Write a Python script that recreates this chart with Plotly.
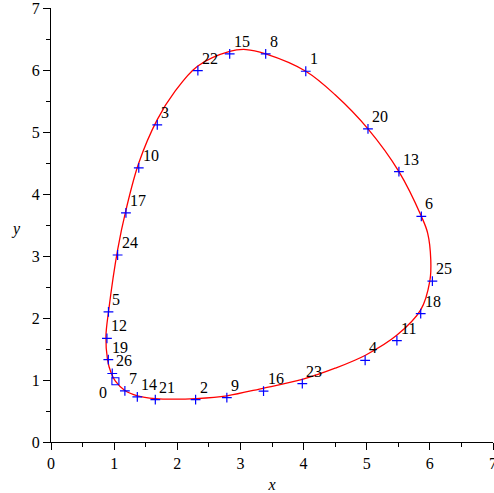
import plotly.graph_objects as go

# Sample points (index labels and coordinates)
point_labels = [str(i) for i in range(27)]
point_x = [1.02, 4.035, 2.29, 1.683, 4.975, 0.91, 5.865, 1.17, 3.40, 2.785,
           1.39, 5.478, 0.886, 5.51, 1.367, 2.83, 3.366, 1.187, 5.855, 0.908,
           5.02, 1.652, 2.326, 3.98, 1.055, 6.04, 0.97]
point_y = [0.98, 5.98, 0.685, 5.116, 1.315, 2.10, 3.64, 0.824, 6.26, 0.717,
           4.42, 1.635, 1.67, 4.36, 0.727, 6.26, 0.819, 3.695, 2.07, 1.33,
           5.05, 0.685, 5.99, 0.943, 3.016, 2.595, 1.105]

# Closed orbit curve
curve_x = [1.02, 1.17, 1.37, 1.65, 1.95, 2.29, 2.785, 3.37, 3.98, 4.5, 4.98,
           5.475, 5.855, 6.0, 6.015, 5.965, 5.865, 5.51, 5.02, 4.5, 4.035,
           3.40, 3.09, 2.83, 2.32, 1.96, 1.683, 1.39, 1.187, 1.055, 0.913,
           0.87, 0.895, 0.95, 1.02]
curve_y = [0.98, 0.83, 0.745, 0.70, 0.69, 0.70, 0.745, 0.87, 1.01, 1.19, 1.40,
           1.72, 2.13, 2.6, 2.93, 3.37, 3.64, 4.36, 5.05, 5.6, 5.98,
           6.26, 6.33, 6.30, 6.06, 5.65, 5.20, 4.50, 3.74, 3.10, 2.12,
           1.70, 1.33, 1.12, 0.98]

tick_vals = [0, 1, 2, 3, 4, 5, 6, 7]
tick_text = ["0", "1", "2", "3", "4", "5", "6", "7"]

FONT = "Liberation Serif, Times New Roman, serif"

fig = go.Figure()
fig.add_trace(go.Scatter(x=curve_x, y=curve_y, mode="lines",
                         line=dict(color="red", width=1.3, shape="spline", smoothing=1.0),
                         hoverinfo="skip", showlegend=False))
fig.add_trace(go.Scatter(x=point_x[1:], y=point_y[1:], mode="markers",
                         marker=dict(symbol="cross-thin", size=7,
                                     line=dict(color="blue", width=1.2)),
                         showlegend=False))
fig.add_trace(go.Scatter(x=point_x[:1], y=point_y[:1], mode="markers",
                         marker=dict(symbol="square-open", size=7, color="blue",
                                     line=dict(color="blue", width=1.1)),
                         showlegend=False))

annotations = []
for lab, px, py in zip(point_labels, point_x, point_y):
    if lab == "0":
        annotations.append(dict(x=px, y=py, text=lab, showarrow=False,
                                xanchor="right", yanchor="top", xshift=-6, yshift=-1,
                                font=dict(family=FONT, size=16, color="black")))
    else:
        annotations.append(dict(x=px, y=py, text=lab, showarrow=False,
                                xanchor="left", yanchor="bottom", xshift=2, yshift=2,
                                font=dict(family=FONT, size=16, color="black")))
annotations.append(dict(x=-0.096, y=0.49, xref="paper", yref="paper", text="<i>y</i>",
                        showarrow=False, font=dict(family=FONT, size=16, color="black")))

axis_common = dict(range=[0, 7], showgrid=False, zeroline=False, showline=True,
                   linecolor="black", linewidth=1.2, ticks="outside", ticklen=7,
                   tickwidth=1.2, tickcolor="black", tickvals=tick_vals,
                   ticktext=tick_text, tickfont=dict(family=FONT, size=16, color="black"),
                   ticklabeloverflow="allow", automargin=False,
                   minor=dict(dtick=0.5, ticks="outside", ticklen=4, tickwidth=1.2,
                              tickcolor="black", showgrid=False),
                   fixedrange=True)

fig.update_layout(
    width=494, height=493,
    margin=dict(l=51, r=1, t=8, b=51, autoexpand=False),
    paper_bgcolor="white", plot_bgcolor="white",
    font=dict(family=FONT),
    xaxis=dict(**axis_common, title=dict(text="<i>x</i>", standoff=8,
                                         font=dict(family=FONT, size=16, color="black"))),
    yaxis=dict(**axis_common),
    annotations=annotations,
    showlegend=False,
)

fig.write_html("out.html", config={"displayModeBar": False},
               post_script="document.body.style.margin='0';document.body.style.padding='0';")
